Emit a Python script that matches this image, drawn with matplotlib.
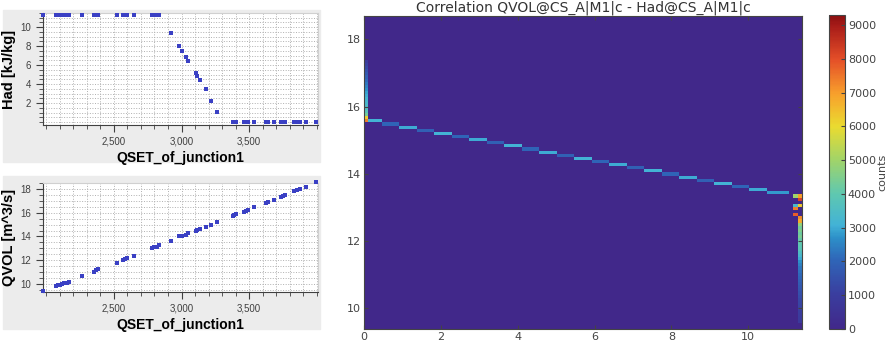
import matplotlib
matplotlib.use("Agg")
import matplotlib.pyplot as plt
import numpy as np
from matplotlib.colors import LinearSegmentedColormap
from matplotlib.patches import Rectangle
from matplotlib.ticker import MultipleLocator, FixedLocator, FuncFormatter

# --- left scatter panels: samples ---
qset = [1975, 2070, 2085, 2100, 2115, 2130, 2150, 2170, 2265, 2355, 2365, 2380,
        2520, 2570, 2585, 2600, 2650, 2785, 2800, 2815, 2830, 2920, 2985, 3005,
        3035, 3050, 3105, 3117, 3137, 3180, 3220, 3265, 3380, 3390, 3400, 3465,
        3475, 3490, 3540, 3625, 3640, 3685, 3735, 3750, 3765, 3835, 3855, 3875,
        3920, 3995]
had = [11.3] * 21 + [9.37, 8.03, 7.54, 6.9, 6.45, 5.15, 4.9, 4.4, 3.47, 2.28, 1.12] + [0.0] * 18
qvol = [9.45, 9.85, 9.9, 9.95, 10.0, 10.05, 10.1, 10.2, 10.65, 11.05, 11.15, 11.25,
        11.8, 12.05, 12.1, 12.2, 12.4, 13.0, 13.1, 13.15, 13.25, 13.65, 14.0, 14.05,
        14.15, 14.3, 14.5, 14.55, 14.6, 14.8, 15.0, 15.2, 15.75, 15.8, 15.85, 16.1,
        16.15, 16.25, 16.45, 16.85, 16.9, 17.1, 17.35, 17.4, 17.45, 17.85, 17.95, 18.0,
        18.2, 18.55]
qset_ticks = [2500, 3000, 3500]
had_ticks = [2, 4, 6, 8, 10]
qvol_ticks = [10, 12, 14, 16, 18]

# --- correlation histogram (Had on x, QVOL on y) ---
# diagonal ridge: one run of cells per QVOL row
diag_qvol = [15.55, 15.46, 15.37, 15.27, 15.18, 15.09, 14.99, 14.90, 14.81, 14.71,
             14.62, 14.53, 14.43, 14.34, 14.25, 14.15, 14.06, 13.97, 13.87, 13.78,
             13.69, 13.59, 13.50, 13.41]
diag_had_from = [0.10, 0.45, 0.90, 1.35, 1.80, 2.30, 2.75, 3.20, 3.65, 4.10, 4.55, 5.00,
                 5.50, 5.95, 6.40, 6.85, 7.30, 7.75, 8.20, 8.70, 9.15, 9.60, 10.05, 10.50]
diag_had_to = [0.45, 0.90, 1.35, 1.80, 2.30, 2.75, 3.20, 3.65, 4.10, 4.55, 5.00, 5.50,
               5.95, 6.40, 6.85, 7.30, 7.75, 8.20, 8.70, 9.15, 9.60, 10.05, 10.50, 11.10]
diag_count = [3100, 2000, 3000, 1900, 3100, 2000, 3000, 1900, 3100, 2000, 3000, 1900,
              3100, 2000, 3000, 1900, 3100, 2000, 3000, 1900, 3100, 2000, 3000, 2800]
# column at Had = 0
left_qvol = [15.60, 15.69, 15.78, 15.88, 15.97, 16.06, 16.16, 16.25, 16.34, 16.44,
             16.53, 16.62, 16.72, 16.81, 16.90, 17.00, 17.09, 17.18, 17.28, 17.37]
left_count = [7400, 6200, 4300, 3800, 3600, 3400, 3300, 3200, 3000, 2900,
              2700, 2500, 2300, 2100, 1900, 1700, 1500, 1300, 1100, 900]
# knot near Had max
knot_had = [11.25, 11.35, 11.35, 11.20, 11.30, 11.20, 11.25, 11.35]
knot_qvol = [13.32, 13.32, 13.22, 13.04, 13.04, 12.94, 12.76, 12.66]
knot_count = [5000, 7000, 8200, 3300, 6300, 7400, 7800, 7200]
# tail column at Had max
tail_qvol = [12.57, 12.48, 12.38, 12.29, 12.20, 12.10, 12.01, 11.92, 11.82, 11.73,
             11.64, 11.54, 11.45, 11.36, 11.26, 11.17, 11.08, 10.98, 10.89, 10.80,
             10.70, 10.61, 10.52, 10.42, 10.33, 10.24, 10.14, 10.05, 9.96, 9.86,
             9.77, 9.68, 9.58]
tail_count = [6800, 4800, 4300, 4500, 4200, 4400, 4100, 4000, 3900, 3800,
              3500, 3300, 3000, 2700, 2500, 2300, 2200, 2100, 2000, 1900,
              1800, 1700, 1600, 1500, 1400, 1300, 1250, 1200, 1100, 1000,
              950, 900, 850]
tail_had = 11.35

cbar_ticks = [0, 1000, 2000, 3000, 4000, 5000, 6000, 7000, 8000, 9000]

xedges = np.linspace(0, 11.4, 101)
yedges = np.linspace(9.37, 18.7, 101)

W, H = 890, 345
fig = plt.figure(figsize=(W / 100, H / 100), dpi=100)

# grey frames behind left panels
for (x0, y0, x1, y1) in [(3, 10, 320, 162), (3, 176, 320, 329)]:
    fig.patches.append(Rectangle((x0 / W, 1 - y1 / H), (x1 - x0) / W, (y1 - y0) / H,
                                 transform=fig.transFigure, color='#ececec', zorder=-10))


def left_panel(rect, y, ylim, yticks, ylabel):
    ax = fig.add_axes(rect)
    ax.set_zorder(1)
    ax.set_facecolor('white')
    ax.scatter(qset, y, s=8, marker='s', color='#3a40c4', linewidths=0, zorder=3,
               clip_on=False)
    ax.set_xlim(1975, 4010)
    ax.set_ylim(*ylim)
    ax.xaxis.set_major_locator(FixedLocator(qset_ticks))
    ax.xaxis.set_minor_locator(MultipleLocator(100))
    ax.yaxis.set_major_locator(FixedLocator(yticks))
    ax.yaxis.set_minor_locator(MultipleLocator(0.5))
    ax.xaxis.set_major_formatter(FuncFormatter(lambda v, p: '{:,.0f}'.format(v)))
    ax.grid(True, which='both', linestyle=':', color='#b0b0b0', linewidth=0.7)
    ax.tick_params(which='both', direction='out', colors='#404040', labelsize=7)
    ax.tick_params(which='major', length=5)
    ax.tick_params(which='minor', length=3)
    for lab in ax.get_xticklabels() + ax.get_yticklabels():
        lab.set_fontfamily('Liberation Sans')
    for s in ['top', 'right']:
        ax.spines[s].set_color('#d0d0d0')
    for s in ['left', 'bottom']:
        ax.spines[s].set_color('#404040')
    ax.set_xlabel('QSET_of_junction1', fontsize=10, fontweight='bold',
                  family='Liberation Sans', labelpad=3)
    ax.set_ylabel(ylabel, fontsize=10.5, fontweight='bold',
                  family='Liberation Sans', labelpad=3)
    return ax


left_panel([43 / W, 1 - 125 / H, 275 / W, 112 / H], had, (-0.3, 11.5), had_ticks,
           'Had [kJ/kg]')
left_panel([43 / W, 1 - 292 / H, 275 / W, 109 / H], qvol, (9.33, 18.5), qvol_ticks,
           'QVOL [m^3/s]')

# build the histogram grid from the listed cells
xc = 0.5 * (xedges[:-1] + xedges[1:])
Z = np.zeros((len(yedges) - 1, len(xedges) - 1))


def put(hx, qy, c):
    i = min(np.searchsorted(yedges, qy) - 1, Z.shape[0] - 1)
    j = min(np.searchsorted(xedges, hx) - 1, Z.shape[1] - 1)
    Z[i, j] = max(Z[i, j], c)


for q, a, b, c in zip(diag_qvol, diag_had_from, diag_had_to, diag_count):
    for hx in xc[(xc >= a) & (xc < b)]:
        put(hx, q, c)
for q, c in zip(left_qvol, left_count):
    put(0.05, q, c)
for hx, q, c in zip(knot_had, knot_qvol, knot_count):
    put(hx, q, c)
for q, c in zip(tail_qvol, tail_count):
    put(tail_had, q, c)

cmap = LinearSegmentedColormap.from_list('corr', [
    (0.0, '#41288a'), (0.11, '#3a3e9f'), (0.22, '#2f66b8'), (0.29, '#2d90c9'),
    (0.33, '#42b2d6'), (0.43, '#5fc8b0'), (0.54, '#a2d468'), (0.645, '#eadb30'),
    (0.75, '#f8a02c'), (0.86, '#e44e28'), (0.97, '#a51a18'), (1.0, '#8a1010')])

ax3 = fig.add_axes([364 / W, 1 - 329 / H, 438 / W, 313 / H])
mesh = ax3.pcolormesh(xedges, yedges, Z, cmap=cmap, vmin=0, vmax=9300)
ax3.set_xlim(0, 11.4)
ax3.set_ylim(9.37, 18.7)
ax3.set_xticks([0, 2, 4, 6, 8, 10])
ax3.set_yticks([10, 12, 14, 16, 18])
ax3.tick_params(direction='in', top=True, right=True, colors='#444444', labelsize=8,
                length=3, pad=2)
for s in ax3.spines.values():
    s.set_color('#444444')
ax3.set_title('Correlation QVOL@CS_A|M1|c - Had@CS_A|M1|c', fontsize=10,
              color='#333333', pad=3)

cax = fig.add_axes([829 / W, 1 - 329 / H, 16 / W, 314 / H])
cb = fig.colorbar(mesh, cax=cax, ticks=cbar_ticks)
cb.outline.set_edgecolor('#444444')
cax.tick_params(direction='in', colors='#444444', labelsize=8, length=3, pad=2)
cb.set_label('counts', fontsize=8, color='#444444')
cax.yaxis.set_label_coords(3.0, 0.5)

plt.savefig('out.png', dpi=100)
